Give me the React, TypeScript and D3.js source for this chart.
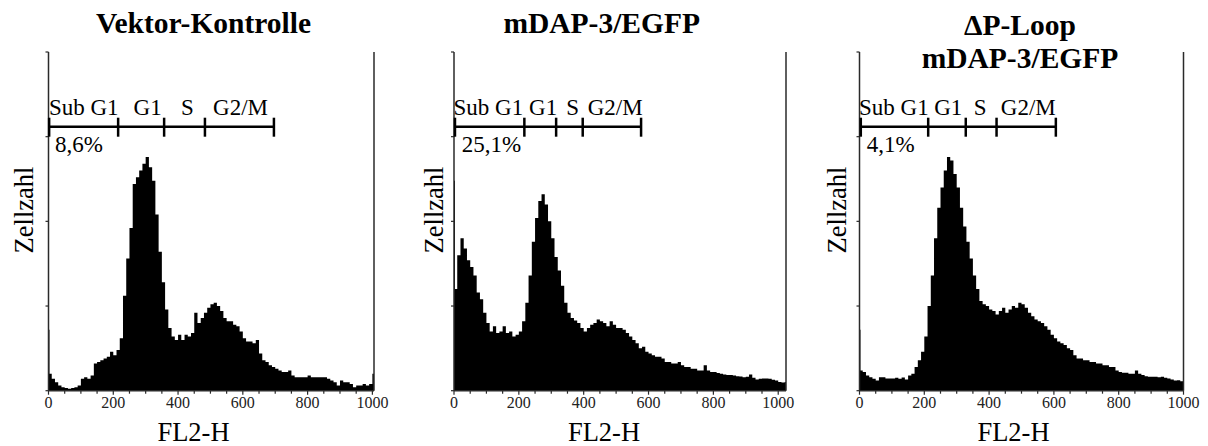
import React from "react";
import * as d3 from "d3";

// ---------- DATA ----------
const BIN_WIDTH = 10; // FL2-H channels per bin
const X_TICKS = [0, 200, 400, 600, 800, 1000];
const Y_TICKS = [0, 25, 50, 75, 100];

// relative cell counts (% of axis height), bins of 10 channels starting at 0
const vektorCounts = [
  5, 3.5, 2.5, 1.5, 1, 0.8, 0.6, 0.8, 1, 1.5,
  3.5, 4, 3.5, 4.5, 8, 8.5, 9, 9.5, 10, 11.5,
  10.5, 12, 15.5, 28, 39, 48, 61, 63, 65, 67,
  69, 66, 62, 52, 41, 32, 24, 18.5, 16, 15,
  16.5, 15, 16.5, 16, 17, 23, 20, 21.5, 23, 24.5,
  25.5, 26, 25, 23.5, 21.5, 20.5, 20.5, 19.5, 19, 17.5,
  15.5, 14.5, 14.5, 14, 15, 11, 9, 8.5, 7.5, 7,
  6.5, 6, 5.5, 5.5, 6, 4.5, 4, 4, 4, 4,
  4.5, 4, 4, 4, 4, 4, 3.5, 3, 2.5, 1.5,
  3, 2.5, 2.5, 2, 1, 1.5, 1.5, 2, 1.5, 2,
  5,
];

const mdapCounts = [
  30, 40, 45, 42, 38.5, 36.5, 34, 29, 27, 23,
  20, 17.5, 19, 17, 17.5, 19, 17, 17.5, 16, 16.5,
  17.5, 20.5, 26, 34, 44, 51, 56, 58, 55, 50,
  45, 39.5, 35.5, 31, 26, 23, 21.5, 20.7, 20, 18.5,
  17.5, 18.5, 19.5, 20, 21, 20.5, 20, 19, 20.5, 19.5,
  18.5, 18.5, 18, 17, 16, 15, 14, 12.5, 13, 11.5,
  11, 10.5, 10, 10, 9.5, 8.5, 8.5, 8, 8, 8.5,
  7.5, 7, 7, 6.5, 6.5, 6, 6, 7.5, 6, 5.5,
  5.5, 5.2, 5, 4.8, 4.6, 4.6, 4.5, 4.3, 4.2, 4,
  4.1, 4.8, 3.8, 3.3, 3.5, 3.6, 3.6, 3.5, 3.2, 3,
  2.6, 2.4, 2.6,
];

const ploopCounts = [
  6, 5.5, 4.5, 4, 3.5, 3, 4, 4, 3.6, 3.6,
  3.6, 3.8, 3.5, 3.9, 3.3, 4.5, 5, 7, 9, 11.5,
  16, 25, 34, 45, 54, 60, 65, 69, 68, 64,
  60, 54, 48.5, 44, 39, 34, 30, 26.5, 25.5, 25,
  24, 23.5, 22.5, 23.5, 24.5, 23, 24, 25, 24.5, 26,
  25.5, 24.5, 23, 22, 21, 20.5, 20, 19, 18, 16.5,
  15.5, 14.5, 14, 13.5, 12.5, 12, 10.5, 9.5, 9.5, 9,
  9, 8.5, 8.5, 8, 8, 7.5, 7.5, 7, 7, 6,
  5.5, 5.3, 5.3, 5, 5, 6, 5, 4.6, 4.3, 4.1,
  4.1, 4.1, 4, 4.1, 3.8, 3.6, 3.3, 3, 3.1, 2.8,
];

// narrow spike at channel 0 for each sample
const channelZeroSpike = [18, 62, 18];
const channelMax = [1005, 1024, 1000];

const titles = [["Vektor-Kontrolle"], ["mDAP-3/EGFP"], ["\u0394P-Loop", "mDAP-3/EGFP"]];
const subG1Percent = ["8,6%", "25,1%", "4,1%"];
const phaseNames = ["Sub G1", "G1", "S", "G2/M"];
const phaseGates = [
  [2, 215, 357, 483, 696],
  [3, 217, 315, 397, 577],
  [4, 212, 328, 423, 606],
];
const phaseLabelCenters = [
  [109, 306, 429, 593],
  [106, 275, 366, 497],
  [106, 274, 372, 521],
];
const percentStart = [20, 24, 22];
const allCounts = [vektorCounts, mdapCounts, ploopCounts];

// ---------- LAYOUT ----------
const layout = [
  { left: 48.5, right: 374, titleX: 203.5, titleY: [33], xLabelX: 193.5, yLabelX: 33 },
  { left: 454, right: 786, titleX: 601.7, titleY: [33], xLabelX: 604, yLabelX: 443 },
  { left: 859.5, right: 1183.5, titleX: 1020, titleY: [35, 68], xLabelX: 1013.5, yLabelX: 846 },
];
const TOP = 52;
const BOTTOM = 390.7;
const BAR_Y = 126.7;
const AXIS_COLOR = "#2a2a2a";
const FONT = '"Liberation Serif", "Times New Roman", serif';

function Panel({ i }: { i: number }) {
  const L = layout[i];
  const xMax = channelMax[i];
  const counts = allCounts[i];
  const x = d3.scaleLinear().domain([0, xMax]).range([L.left, L.right]);
  const y = d3.scaleLinear().domain([0, 100]).range([BOTTOM, TOP]);

  const pts: [number, number][] = counts.map((v, k) => [k * BIN_WIDTH, v]);
  const lastEnd = Math.min(counts.length * BIN_WIDTH, xMax);
  pts.push([lastEnd, counts[counts.length - 1]]);
  const clipped = pts.map(([c, v]) => [Math.min(c, xMax), v] as [number, number]);
  const area = d3
    .area<[number, number]>()
    .x((d) => x(d[0]))
    .y0(y(0))
    .y1((d) => y(d[1]))
    .curve(d3.curveStepAfter);

  const minor = d3.range(0, 1001, 50);
  const gates = phaseGates[i];
  const centers = phaseLabelCenters[i];
  const yLabelCenter = 210;

  return (
    <g>
      {titles[i].map((t, k) => (
        <text key={k} x={L.titleX} y={L.titleY[k]} textAnchor="middle" fontWeight="bold" fontSize={29.5} fill="#000" style={{ fontFamily: FONT }}>
          {t}
        </text>
      ))}
      <path d={area(clipped) || ""} fill="#000" />
      <rect
        x={x(0)}
        y={y(channelZeroSpike[i])}
        width={x(3) - x(0)}
        height={y(0) - y(channelZeroSpike[i])}
        fill="#000"
      />
      <line x1={L.left} x2={L.left} y1={TOP} y2={BOTTOM} stroke={AXIS_COLOR} strokeWidth={1.5} />
      <line x1={L.right} x2={L.right} y1={TOP} y2={BOTTOM} stroke={AXIS_COLOR} strokeWidth={1.5} />
      <line x1={L.left} x2={L.right} y1={BOTTOM} y2={BOTTOM} stroke={AXIS_COLOR} strokeWidth={1.5} />
      {Y_TICKS.map((t) => (
        <line key={t} x1={L.left - 3} x2={L.left} y1={y(t)} y2={y(t)} stroke={AXIS_COLOR} strokeWidth={1.2} />
      ))}
      {minor.map((t) => (
        <line
          key={t}
          x1={x(t)}
          x2={x(t)}
          y1={BOTTOM}
          y2={BOTTOM + (t % 200 === 0 ? 4 : 3)}
          stroke={AXIS_COLOR}
          strokeWidth={1.2}
        />
      ))}
      {X_TICKS.map((t) => (
        <text key={t} x={x(t)} y={407.5} textAnchor="middle" fontSize={16} fill="#222" style={{ fontFamily: FONT }}>
          {t}
        </text>
      ))}
      <text x={L.xLabelX} y={440.5} textAnchor="middle" fontSize={26.5} fill="#000" style={{ fontFamily: FONT }}>
        FL2-H
      </text>
      <text
        transform={`translate(${L.yLabelX},${yLabelCenter}) rotate(-90)`}
        textAnchor="middle"
        fontSize={26.5}
        fill="#000"
        style={{ fontFamily: FONT }}
      >
        Zellzahl
      </text>
      <line x1={x(gates[0])} x2={x(gates[gates.length - 1])} y1={BAR_Y} y2={BAR_Y} stroke="#000" strokeWidth={2.5} />
      {gates.map((g, k) => (
        <line key={k} x1={x(g)} x2={x(g)} y1={BAR_Y - 9} y2={BAR_Y + 10} stroke="#000" strokeWidth={2.5} />
      ))}
      {phaseNames.map((n, k) => (
        <text key={n} x={x(centers[k])} y={115} textAnchor="middle" fontSize={23} fill="#000" style={{ fontFamily: FONT }}>
          {n}
        </text>
      ))}
      <text x={x(percentStart[i])} y={152} fontSize={23} fill="#000" style={{ fontFamily: FONT }}>
        {subG1Percent[i]}
      </text>
    </g>
  );
}

export default function App() {
  return (
    <svg
      width={1208}
      height={446}
      style={{ position: "absolute", left: 0, top: 0, background: "#fff", display: "block" }}
    >
      <rect width={1208} height={446} fill="#fff" />
      {[0, 1, 2].map((i) => (
        <Panel key={i} i={i} />
      ))}
    </svg>
  );
}
